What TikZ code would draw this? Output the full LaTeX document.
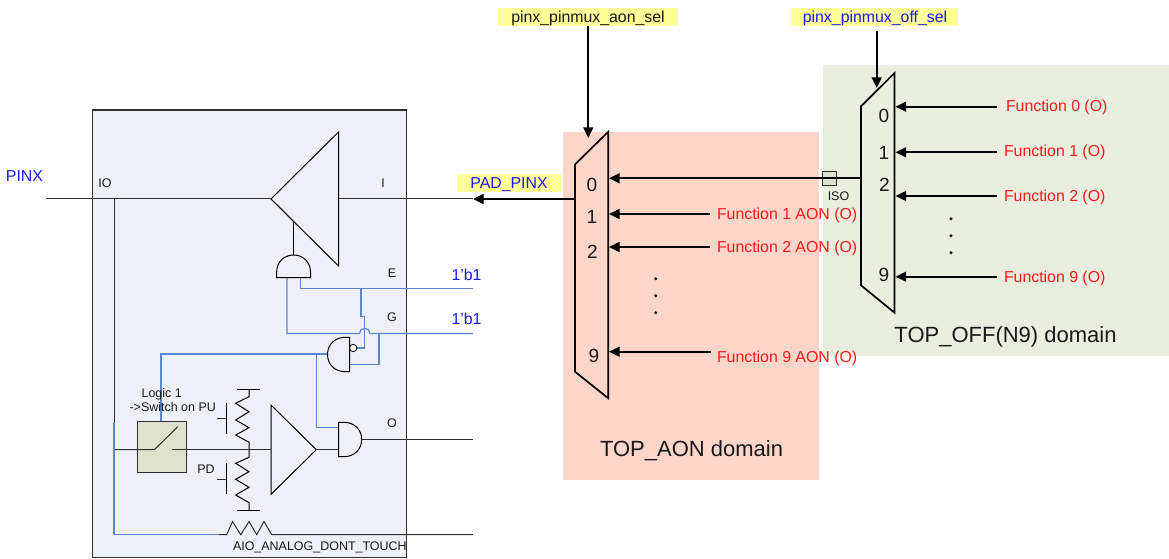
\documentclass[tikz,border=0pt]{standalone}
\usepackage{fontspec}
\setmainfont{Liberation Sans}
\usetikzlibrary{arrows.meta}
\definecolor{wireblue}{HTML}{5B85CC}
\definecolor{darkw}{HTML}{303030}
\definecolor{boxfill}{HTML}{EDF0F6}
\definecolor{swfill}{HTML}{DEE2CC}
\definecolor{aonfill}{HTML}{FDD5C9}
\definecolor{offfill}{HTML}{EAEEDF}
\definecolor{yel}{HTML}{FFFF99}
\definecolor{txtblue}{HTML}{1A1AEE}
\definecolor{txtred}{HTML}{FF1A1A}
\tikzset{
  x=0.75pt,y=-0.75pt,
  lbl/.style={inner sep=0pt,outer sep=0pt,text=black!90},
  lab/.style={lbl,font=\fontsize{9.35pt}{11pt}\selectfont},
  funclab/.style={lbl,text=txtred,font=\fontsize{11.9pt}{14pt}\selectfont},
  sellab/.style={lbl,font=\fontsize{11.9pt}{14pt}\selectfont},
  bluelab/.style={lbl,text=txtblue,font=\fontsize{11.9pt}{14pt}\selectfont},
  digit/.style={lbl,font=\fontsize{14.3pt}{16pt}\selectfont},
  domlab/.style={lbl,font=\fontsize{16.5pt}{19pt}\selectfont},
  thin wire/.style={draw=darkw,line width=0.75pt},
  bwire/.style={draw=wireblue,line width=0.85pt},
  gate/.style={draw=black,line width=0.75pt,fill=boxfill},
  muxline/.style={draw=black,line width=1.25pt,line join=miter},
  sig/.style={draw=black,line width=1.25pt,-{Triangle[length=8pt,width=7.5pt]},shorten >=0pt},
}
\begin{document}
\begin{tikzpicture}
\useasboundingbox (0,0) rectangle (1169,559);
% domain backgrounds
\fill[aonfill] (563,132) rectangle (819,480);
\fill[offfill] (823,65) rectangle (1169,356);
% pad box
\node[draw=darkw,line width=0.9pt,fill=boxfill,minimum width=314.5*0.75pt,minimum height=447.5*0.75pt,inner sep=0pt,anchor=north west] (pad) at (91.5,109.5) {};
% yellow labels
\fill[yel] (498,8) rectangle (678,26);
\fill[yel] (791,8) rectangle (958,26);
\fill[yel] (457,174) rectangle (561,192);
\node[sellab] (aonsel) at (588,18.5) {pinx\_pinmux\_aon\_sel};
\node[bluelab] (offsel) at (875,18.5) {pinx\_pinmux\_off\_sel};
\node[bluelab] (padpinx) at (509,184.5) {PAD\_PINX};
\node[bluelab] (pinx) at (24.5,176) {PINX};
% muxes
\draw[muxline] (608.3,131.7) -- (575,164.5) -- (575,371.7) -- (608.3,398.3) -- cycle;
\draw[muxline] (894.5,73) -- (861,106.3) -- (861,285.3) -- (894.5,312.7) -- cycle;
\coordinate (aonin) at (588.3,138);
\coordinate (offtop) at (876.7,31);
\coordinate (offin) at (876.7,88);
\coordinate (aontop) at (588.3,26);
\draw[sig] (aontop) -- (aonin);
\draw[sig] (offtop) -- (offin);
% AON digits
\node[digit] (a0) at (592,185) {0};
\node[digit] (a1) at (592,217) {1};
\node[digit] (a2) at (592.5,251.5) {2};
\node[digit] (a9) at (594,356) {9};
% OFF digits
\node[digit] (o0) at (884,116) {0};
\node[digit] (o1) at (884,152.5) {1};
\node[digit] (o2) at (884.5,184.5) {2};
\node[digit] (o9) at (884,274.5) {9};
% AON functions
\node[funclab,anchor=west] (f1a) at (717,215.5) {Function 1 AON (O)};
\node[funclab,anchor=west] (f2a) at (717,248.5) {Function 2 AON (O)};
\node[funclab,anchor=west] (f9a) at (717,358.7) {Function 9 AON (O)};
\coordinate (f1as) at (709.5,214);\coordinate (f1ae) at (609,214);
\coordinate (f2as) at (710,247);\coordinate (f2ae) at (609,247);
\coordinate (f9as) at (710.5,351.7);\coordinate (f9ae) at (609,351.7);
\draw[sig] (f1as) -- (f1ae);
\draw[sig] (f2as) -- (f2ae);
\draw[sig] (f9as) -- (f9ae);
% OFF functions
\node[funclab,anchor=west] (f0) at (1006,107.7) {Function 0 (O)};
\node[funclab,anchor=west] (f1) at (1004,152.7) {Function 1 (O)};
\node[funclab,anchor=west] (f2) at (1004,197.7) {Function 2 (O)};
\node[funclab,anchor=west] (f9) at (1004,278.7) {Function 9 (O)};
\coordinate (f0s) at (997,106.7);\coordinate (f0e) at (895.5,106.7);
\coordinate (f1s) at (997,152.3);\coordinate (f1e) at (895.5,152.3);
\coordinate (f2s) at (997,196);\coordinate (f2e) at (895.5,196);
\coordinate (f9s) at (997,276.7);\coordinate (f9e) at (895.5,276.7);
\draw[sig] (f0s) -- (f0e);
\draw[sig] (f1s) -- (f1e);
\draw[sig] (f2s) -- (f2e);
\draw[sig] (f9s) -- (f9e);
% ISO box, then the mux 0 link over it
\node[draw=darkw,line width=0.6pt,fill=swfill,minimum size=14*0.75pt,inner sep=0pt] (iso) at (829.7,178.3) {};
\node[lab] (isolab) at (838.5,196.5) {ISO};
\coordinate (offout) at (861,178.3);
\coordinate (aon0) at (609,178.3);
\draw[sig] (offout) -- (aon0);
% dots
\foreach \yy in {278.7,295.7,312.7}{\fill[black] (655.7,\yy) circle[radius=1.6];}
\foreach \yy in {218.7,235.7,252.7}{\fill[black] (951,\yy) circle[radius=1.6];}
% domain labels
\node[domlab] (aonlab) at (691.5,451) {TOP\_AON domain};
\node[domlab] (offlab) at (1005.5,337) {TOP\_OFF(N9) domain};
% PAD wires
\coordinate (pinxl) at (46,199);
\coordinate (apex) at (271,199);
\coordinate (trir) at (338.5,199);
\coordinate (padout) at (473,199);
\coordinate (aonout) at (575,199);
\draw[thin wire] (pinxl) -- (apex);
\draw[thin wire] (trir) -- (padout);
\draw[sig] (aonout) -- (padout);
\draw[gate,line join=miter] (338.5,132) -- (271,199) -- (338.5,266) -- cycle;
\draw[thin wire] (114,199) -- (114,423);
% top AND gate
\draw[draw=black,line width=0.75pt] (293.7,221) -- (293.7,255);
\draw[bwire] (287,277.7) -- (287,333.5) -- (359.5,333.5) arc[start angle=180,end angle=360,radius=5.2] -- (473,333.5);
\draw[bwire] (300.3,277.7) -- (300.3,288.7) -- (473,288.7);
\draw[bwire] (361,288.7) -- (361,316.7) -- (364.7,316.7) -- (364.7,328.3);
\draw[bwire] (356.5,348) -- (364.7,348) -- (364.7,328.3);
\draw[bwire] (379,333.5) -- (379,364.7) -- (350,364.7);
\draw[gate] (276.7,277.7) -- (276.7,272) .. controls (276.7,262) and (284,255) .. (293.6,255) .. controls (303,255) and (310.5,262) .. (310.5,272) -- (310.5,277.7) -- cycle;
% NAND
\draw[bwire] (161,420.7) -- (161,354) -- (327.5,354);
\draw[bwire] (316.3,354) -- (316.3,427.3) -- (338.5,427.3);
\draw[gate] (349.7,337.3) -- (345,337.3) .. controls (335,337.3) and (327.5,344.5) .. (327.5,354.5) .. controls (327.5,364.5) and (335,371.7) .. (345,371.7) -- (349.7,371.7) -- cycle;
\draw[draw=black,line width=0.6pt,fill=boxfill] (353.2,348) circle[radius=3.7];
% switch
\node[draw=darkw,line width=0.9pt,fill=swfill,minimum width=49.5*0.75pt,minimum height=51.5*0.75pt,inner sep=0pt,anchor=north west] (sw) at (136.7,420.7) {};
\coordinate (swa) at (154.4,449.7);
\coordinate (swb) at (177.7,426.7);
\coordinate (swc) at (172.3,449.7);
\coordinate (buf) at (271,449.7);
\coordinate (iotap) at (114,449.7);
\draw[thin wire] (iotap) -- (swa) -- (swb);
\draw[thin wire] (swc) -- (buf);
% lower blue path
\draw[bwire] (114,423) -- (114,534.7) -- (218.3,534.7);
% analog resistor
\draw[thin wire,line join=miter] (218.3,534.7) -- (226.7,534.7) -- (232.5,521.5) -- (240.7,534.7) -- (249,521.5) -- (256.7,534.7) -- (264,521.5) -- (271.7,534.7) -- (473,534.7);
% PU/PD
\draw[draw=black,line width=0.75pt] (237.3,389.3) -- (260,389.3);
\draw[draw=black,line width=0.75pt,line join=miter] (249,389.3) -- (249,396.7) -- (235.7,403.3) -- (249,411.7) -- (235.7,420) -- (249,427.7) -- (235.7,435) -- (249,442.3) -- (249,457.3) -- (235.7,463.3) -- (249,471.7) -- (235.7,479.3) -- (249,487.3) -- (235.7,495) -- (249,502.7) -- (249,510);
\draw[draw=black,line width=0.75pt] (237.3,510) -- (260,510);
\draw[draw=black,line width=0.75pt] (226.3,402.7) -- (226.3,434);
\draw[draw=darkw,line width=0.75pt] (217.3,418.7) -- (226.3,418.7);
\draw[draw=black,line width=0.75pt] (226.3,463.3) -- (226.3,494.3);
\draw[draw=darkw,line width=0.75pt] (217.3,479.3) -- (226.3,479.3);
% buffer and AND
\draw[gate,line join=miter] (271,405) -- (316.3,449.7) -- (271,494.3) -- cycle;
\draw[thin wire] (316.3,449.7) -- (338.5,449.7);
\draw[thin wire] (361.7,439.5) -- (473,439.5);
\draw[gate] (338.5,422.3) -- (344,422.3) .. controls (354,422.3) and (361.7,429.5) .. (361.7,439.5) .. controls (361.7,449.5) and (354,456.7) .. (344,456.7) -- (338.5,456.7) -- cycle;
% pad labels
\node[lab] (lio) at (105,183) {IO};
\node[lab] (li) at (383,183) {I};
\node[lab] (le) at (392,273) {E};
\node[lab] (lg) at (392,317.5) {G};
\node[lab] (lo) at (392,423) {O};
\node[lab] (l1) at (161.7,394) {Logic 1};
\node[lab] (l2) at (172.7,407) {->Switch on PU};
\node[lab] (lpd) at (206,469) {PD};
\node[lab,anchor=west] (laio) at (233,547) {AIO\_ANALOG\_DONT\_TOUCH};
\node[bluelab] (b1e) at (466.5,275) {1'b1};
\node[bluelab] (b1g) at (466.5,319) {1'b1};
\end{tikzpicture}
\end{document}
